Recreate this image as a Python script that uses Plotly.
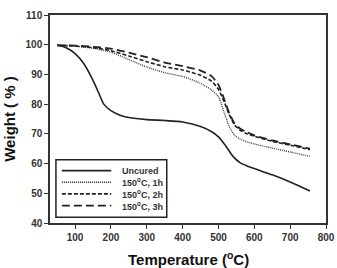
import plotly.graph_objects as go

temp_uncured = [50, 75, 100, 125, 150, 165, 180, 200, 225, 250, 300, 350, 400, 450, 480, 500, 520, 540, 560, 580, 600, 650, 700, 755]
w_uncured = [99.8, 99.0, 97.0, 93.5, 88.0, 84.0, 80.0, 77.8, 76.3, 75.5, 74.8, 74.5, 74.0, 72.5, 70.8, 69.0, 66.0, 62.5, 60.3, 59.2, 58.3, 56.2, 53.8, 50.8]

temp_cured = [50, 100, 150, 200, 250, 300, 350, 400, 450, 480, 500, 515, 530, 545, 560, 580, 600, 650, 700, 755]
w_1h = [99.8, 99.5, 98.8, 97.5, 95.0, 92.5, 90.6, 89.3, 87.0, 84.8, 82.5, 77.5, 72.5, 69.5, 68.3, 67.3, 66.6, 65.2, 63.9, 62.4]
w_2h = [99.8, 99.6, 99.0, 98.0, 96.2, 94.3, 92.6, 91.5, 89.7, 87.8, 85.0, 81.0, 76.5, 73.0, 71.3, 70.0, 69.2, 67.5, 66.2, 64.7]
w_3h = [99.8, 99.7, 99.3, 98.7, 97.3, 95.8, 94.0, 92.8, 91.3, 89.5, 86.5, 82.0, 77.0, 73.5, 71.8, 70.5, 69.5, 67.8, 66.5, 65.0]

names = ["Uncured", "150<sup>o</sup>C, 1h", "150<sup>o</sup>C, 2h", "150<sup>o</sup>C, 3h"]
x_ticks = [100, 200, 300, 400, 500, 600, 700, 800]
y_ticks = [40, 50, 60, 70, 80, 90, 100, 110]

FONT = "Arial, 'Liberation Sans', sans-serif"

styles = [
    dict(color="#222", width=1.6, dash="solid"),
    dict(color="#444", width=1.4, dash="1px,1px"),
    dict(color="#222", width=1.6, dash="4px,2px"),
    dict(color="#222", width=1.8, dash="8px,4px"),
]
series = [(temp_uncured, w_uncured), (temp_cured, w_1h), (temp_cured, w_2h), (temp_cured, w_3h)]

fig = go.Figure()
for (xs, ys), nm, st in zip(series, names, styles):
    fig.add_trace(go.Scatter(x=xs, y=ys, mode="lines", name=nm, showlegend=False,
                             line=dict(st, shape="spline", smoothing=0.6)))

# legend drawn as a boxed key in paper coordinates
leg_x0, leg_x1, leg_y0, leg_y1 = 0.0215, 0.423, 0.028, 0.304
row_y = [0.252, 0.196, 0.140, 0.084]
fig.add_shape(type="rect", xref="paper", yref="paper", x0=leg_x0, x1=leg_x1, y0=leg_y0, y1=leg_y1,
              line=dict(color="#222", width=1.5), fillcolor="white", layer="above")
for ry, nm, st in zip(row_y, names, styles):
    fig.add_shape(type="line", xref="paper", yref="paper", x0=0.043, x1=0.222, y0=ry, y1=ry,
                  line=dict(color="#222", width=st["width"], dash=st["dash"]), layer="above")
    fig.add_annotation(xref="paper", yref="paper", x=0.255, y=ry, xanchor="left", yanchor="middle",
                       text=nm, showarrow=False,
                       font=dict(size=9, family=FONT, color="#333", weight="bold"))

# x-axis title placed under the tick labels
fig.add_annotation(xref="paper", yref="paper", x=0.5, y=-0.115, xanchor="center", yanchor="top",
                   text="Temperature (<sup>o</sup>C)", showarrow=False,
                   font=dict(size=15, family=FONT, color="#111", weight="bold"))

fig.update_layout(
    width=337, height=268,
    margin=dict(l=48, r=10, t=9, b=45),
    paper_bgcolor="white", plot_bgcolor="white",
    font=dict(family=FONT, color="#222"),
    showlegend=False,
    xaxis=dict(range=[30, 800], tickvals=x_ticks, showgrid=False, zeroline=False,
               showline=True, linecolor="#333", linewidth=1.5, mirror=True,
               ticks="outside", ticklen=4, tickcolor="#333", automargin=False,
               tickfont=dict(size=10, weight="bold", color="#333")),
    yaxis=dict(range=[40, 110], tickvals=y_ticks, showgrid=False, zeroline=False,
               showline=True, linecolor="#333", linewidth=1.5, mirror=True,
               ticks="outside", ticklen=4, tickcolor="#333",
               tickfont=dict(size=10, weight="bold", color="#333"),
               title=dict(text="Weight ( % )", standoff=6,
                          font=dict(size=15, weight="bold", color="#111"))),
)

fig.write_html("out.html")
